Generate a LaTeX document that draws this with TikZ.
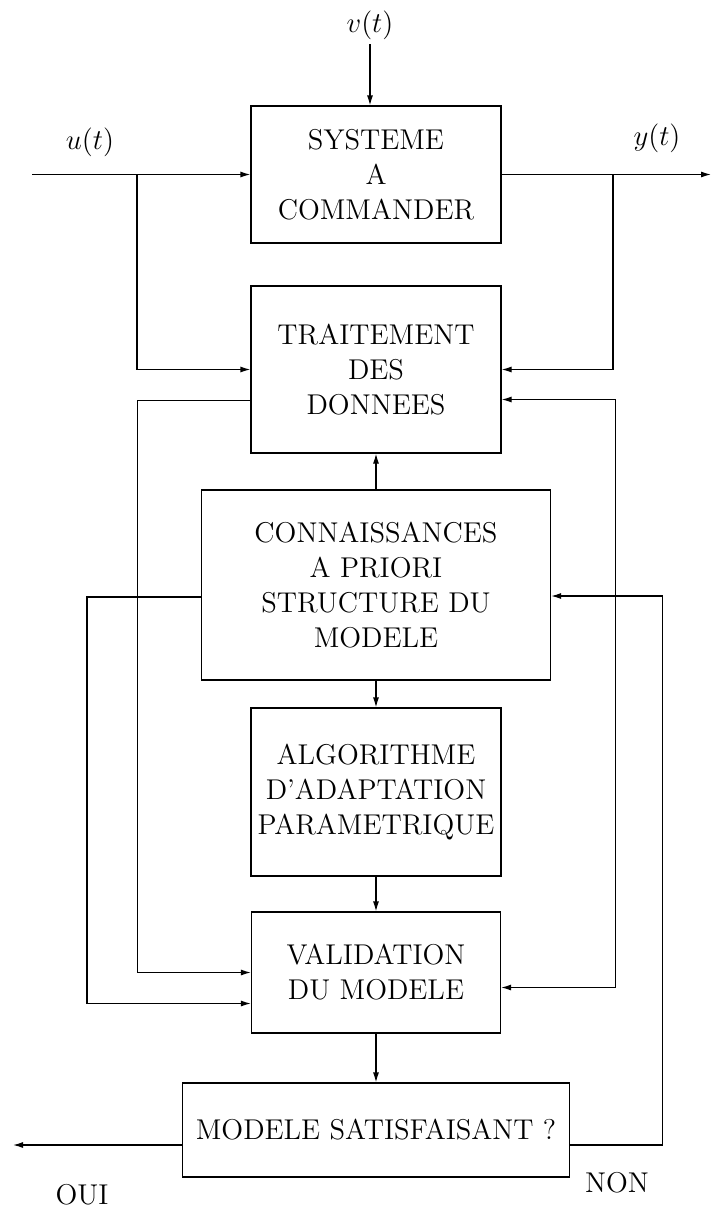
\documentclass[tikz,border=0pt]{standalone}
\usepackage{tikz}
\usetikzlibrary{calc,arrows.meta}

\begin{document}
\begin{tikzpicture}[
    x=0.5pt,y=-0.5pt,
    line width=0.6pt,
    >={Latex[length=5pt,width=3pt]},
    blk/.style={draw,align=center,inner sep=2pt,font=\fontsize{14.3}{17.5}\selectfont},
    sig/.style={font=\fontsize{14.3}{17.5}\selectfont,inner sep=2pt},
  ]
  \def\cx{376}
  \def\dy{15}
  \useasboundingbox (0,0) rectangle (711,1211);
  % blocs
  \node[blk,minimum width=125pt,minimum height=68.5pt] (sys) at (\cx,174.5) {SYSTEME\\A\\COMMANDER};
  \node[blk,minimum width=125pt,minimum height=83.5pt] (trt) at (\cx,369.5) {TRAITEMENT\\DES\\DONNEES};
  \node[blk,minimum width=174.5pt,minimum height=95pt] (conn) at (\cx,585) {CONNAISSANCES\\A PRIORI\\STRUCTURE DU\\MODELE};
  \node[blk,minimum width=125pt,minimum height=84pt] (algo) at (\cx,792) {ALGORITHME\\D'ADAPTATION\\PARAMETRIQUE};
  \node[blk,minimum width=124.5pt,minimum height=60.5pt] (valid) at (\cx,972.5) {VALIDATION\\DU MODELE};
  \node[blk,minimum width=193.5pt,minimum height=47pt] (sat) at (\cx,1130) {MODELE SATISFAISANT ?};
  % signaux
  \node[sig] (vlab) at (370,25) {$v(t)$};
  \node[sig] (ulab) at (90,142) {$u(t)$};
  \node[sig] (ylab) at (657,138) {$y(t)$};
  \node[sig] (oui) at (82,1195) {OUI};
  \node[sig] (non) at (617,1183) {NON};
  \coordinate (uin) at (32,174.5);
  \coordinate (ubr) at (137,174.5);
  \coordinate (ybr) at (613,174.5);
  \coordinate (yout) at (711,174.5);
  \coordinate (oout) at (13,1130+\dy);
  % liaisons
  \draw[->] (vlab) -- (vlab |- sys.north);
  \draw[->] (uin) -- (sys.west);
  \draw[->] (sys.east) -- (yout);
  \draw[->] (ubr) |- (trt.west);
  \draw[->] (ybr) |- (trt.east);
  \draw[->] (conn) -- (trt);
  \draw[->] (conn) -- (algo);
  \draw[->] (algo) -- (valid);
  \draw[->] (valid) -- (sat);
  \draw[->] ($(trt.west)+(0,31)$) -- ++(-113,0) |- (valid.west);
  \draw[->] ($(conn.west)+(0,12)$) -- ++(-114,0) |- ($(valid.west)+(0,31)$);
  \draw[<->] ($(trt.east)+(0,30)$) -- ++(114,0) |- ($(valid.east)+(0,\dy)$);
  \draw[->] ($(sat.east)+(0,\dy)$) -- ++(92,0) |- ($(conn.east)+(0,11)$);
  \draw[->] ($(sat.west)+(0,\dy)$) -- (oout);
\end{tikzpicture}
\end{document}
